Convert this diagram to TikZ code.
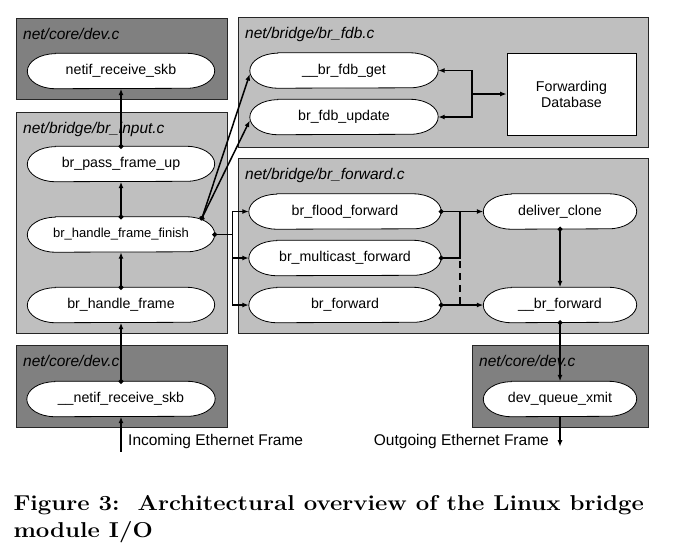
\documentclass[tikz,border=0pt]{standalone}
\usepackage{fontspec}
\newfontfamily\arial{Liberation Sans}
\usetikzlibrary{arrows.meta,calc}
\pgfdeclarelayer{boxes}
\pgfdeclarelayer{shapes}
\pgfsetlayers{boxes,shapes,main}
\tikzset{
  filebox/.style={draw=black!85, line width=0.8pt},
  darkbox/.style={filebox, fill=black!50},
  lightbox/.style={filebox, fill=black!25},
  boxtitle/.style={anchor=base west, inner sep=0pt, font=\arial\itshape\fontsize{15.5}{18}\selectfont},
  fn/.style={minimum width=#1, minimum height=35pt, inner sep=0pt, font=\arial\fontsize{14.2}{17}\selectfont},
  stadium/.style={draw=black, fill=white, line width=0.8pt},
  conn/.style={line width=1.5pt, draw=black},
  tip/.style={-{Latex[length=6.5pt,width=5pt]}},
  dottip/.style={{Circle[length=4.8pt]}-{Latex[length=6.5pt,width=5pt]}, shorten <=-2.4pt},
  dotline/.style={{Circle[length=4.8pt]}-, shorten <=-2.4pt},
  dashline/.style={line width=1.5pt, dash pattern=on 7pt off 5pt, dash phase=-3pt},
  lbl/.style={inner sep=0pt, font=\arial\fontsize{15.5}{18}\selectfont},
  captxt/.style={anchor=base west, inner sep=0pt, font=\bfseries\fontsize{21.5}{26.6}\selectfont},
}
\begin{document}
\begin{tikzpicture}[x=1pt,y=-1pt]
\useasboundingbox (0,0) rectangle (676,552);
% file boxes
\begin{pgfonlayer}{boxes}
\draw[darkbox]  (16,18)   rectangle (227,99);
\draw[lightbox] (16,112)  rectangle (227,333);
\draw[lightbox] (238,17)  rectangle (648,147);
\draw[lightbox] (238,158) rectangle (648,333);
\draw[darkbox]  (16,345)  rectangle (227,427);
\draw[darkbox]  (472,345) rectangle (648,427);
\end{pgfonlayer}
\node[boxtitle] (t1) at (23,39)  {net/core/dev.c};
\node[boxtitle] (t2) at (23,133) {net/bridge/br\_input.c};
\node[boxtitle] (t3) at (245,38) {net/bridge/br\_fdb.c};
\node[boxtitle] (t4) at (245,179) {net/bridge/br\_forward.c};
\node[boxtitle] (t5) at (23,366) {net/core/dev.c};
\node[boxtitle] (t6) at (479,366) {net/core/dev.c};
% functions
\node[fn=187pt] (netif)   at (121,71)    {netif\_receive\_skb};
\node[fn=187pt] (passup)  at (121,164)   {br\_pass\_frame\_up};
\node[fn=187pt, font=\arial\fontsize{13}{16}\selectfont] (finish) at (121,234.5) {br\_handle\_frame\_finish};
\node[fn=187pt] (hframe)  at (121,305)   {br\_handle\_frame};
\node[fn=188pt] (netifin) at (121,399)   {\_\_netif\_receive\_skb};
\node[fn=188pt] (fdbget)  at (344,70.5)  {\_\_br\_fdb\_get};
\node[fn=188pt] (fdbupd)  at (344,117)   {br\_fdb\_update};
\node[fn=192pt] (flood)   at (345,211.5) {br\_flood\_forward};
\node[fn=192pt] (mcast)   at (345,258)   {br\_multicast\_forward};
\node[fn=192pt] (brfwd)   at (345,305)   {br\_forward};
\node[fn=153pt] (dclone)  at (560,211.5) {deliver\_clone};
\node[fn=153pt] (bfwd)    at (560,305)   {\_\_br\_forward};
\node[fn=153pt] (dqx)     at (560,399)   {dev\_queue\_xmit};
\node[draw=black, fill=white, line width=0.8pt, minimum width=129pt, minimum height=82pt,
      align=center, font=\arial\fontsize{14.2}{16}\selectfont] (db) at (571.5,94) {Forwarding\\Database};
\begin{pgfonlayer}{shapes}
\foreach \n in {netif,passup,finish,hframe,netifin,fdbget,fdbupd,flood,mcast,brfwd,dclone,bfwd,dqx}
  \draw[stadium] ($(\n.north west)+(28pt,0pt)$) -- ($(\n.north east)+(-28pt,0pt)$)
    arc[start angle=90, end angle=-90, x radius=28pt, y radius=17.5pt]
    -- ($(\n.south west)+(28pt,0pt)$)
    arc[start angle=270, end angle=90, x radius=28pt, y radius=17.5pt] -- cycle;
\end{pgfonlayer}
% receive path
\draw[conn,dottip] (passup.north) -- (netif.south);
\draw[conn,dottip] (finish.north) -- (passup.south);
\draw[conn,dottip] (hframe.north) -- (finish.south);
\draw[conn,dottip] (netifin.north) -- (hframe.south);
\coordinate (inc) at ($(netifin.south)+(0pt,-35pt)$);
\draw[conn,tip] (inc) -- (netifin.south);
\node[lbl, anchor=base west] (inlbl) at (128,445) {Incoming Ethernet Frame};
% to fdb
\coordinate (hff) at (202,218);
\draw[conn,dottip] (hff) -- ($(fdbget.west)+(0pt,-3.5pt)$);
\draw[conn,dottip] (hff) -- ($(fdbupd.west)+(0pt,-3.5pt)$);
% fdb access
\coordinate (fj) at (472,94);
\draw[conn,tip] (fj) -- (db.west);
\draw[conn,tip] (fj) |- (fdbget.east);
\draw[conn,tip] (fj) |- (fdbupd.east);
% to forward
\draw[conn,dotline] (finish.east) -- ++(18,0) coordinate (split);
\draw[conn,tip] (split) |- (flood.west);
\draw[conn,tip] (split) |- (mcast.west);
\draw[conn,tip] (split) |- (brfwd.west);
\draw[conn,dottip] (flood.east) -- (dclone.west);
\coordinate (j1) at (460,211.5);
\coordinate (j2) at (j1 |- mcast.east);
\coordinate (j3) at (j1 |- brfwd.east);
\draw[conn,dotline] (mcast.east) -| (j1);
\draw[dashline] (j2) -- (j3);
\draw[conn,dottip] (brfwd.east) -- (bfwd.west);
\draw[conn,dottip] (dclone.south) -- (bfwd.north);
\draw[conn,dottip] (bfwd.south) -- (dqx.north);
\coordinate (outg) at ($(dqx.south)+(0pt,-30pt)$);
\draw[conn,tip] (dqx.south) -- (outg);
\node[lbl, anchor=base east] (outlbl) at (549,445) {Outgoing Ethernet Frame};
% caption
\node[captxt] (cap1) at (13.3,510.7) {\scalebox{1.115}[1]{Figure 3:\ \ Architectural overview of the Linux bridge}};
\node[captxt] (cap2) at (13.3,537.3) {\scalebox{1.115}[1]{module I/O}};
\end{tikzpicture}
\end{document}
